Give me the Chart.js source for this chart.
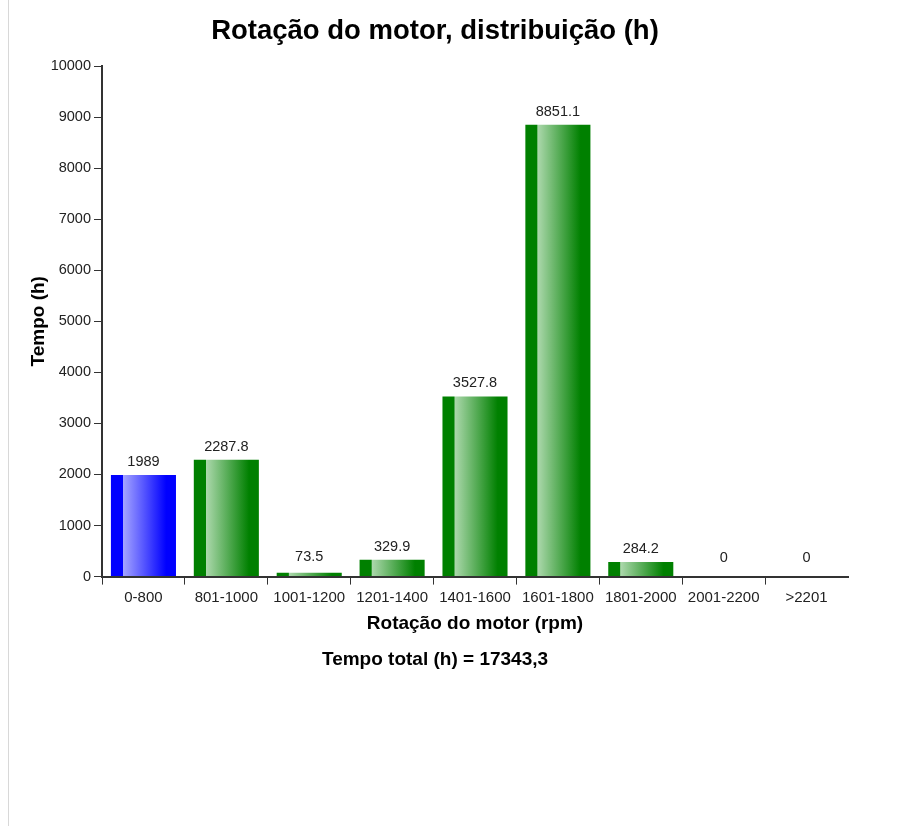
<!DOCTYPE html>
<html>
<head>
<meta charset="utf-8">
<title>Rotação do motor</title>
<script src="https://cdn.jsdelivr.net/npm/chart.js@4.4.0/dist/chart.umd.min.js"></script>
<style>
  body { margin: 0; background: #fff; }
  #wrap { position: relative; width: 909px; height: 826px; }
  #edge { position: absolute; left: 8px; top: 0; bottom: 0; border-left: 1px solid #d8d8d8; }
  #grafico { position: absolute; left: 0; top: 0; }
</style>
</head>
<body>
<div id="wrap">
  <div id="edge"></div>
  <canvas id="grafico" width="870" height="690"></canvas>
</div>
<script>
// faixas de rotação e horas em cada faixa
const faixas = ['0-800', '801-1000', '1001-1200', '1201-1400', '1401-1600', '1601-1800', '1801-2000', '2001-2200', '>2201'];
const horas = [1989, 2287.8, 73.5, 329.9, 3527.8, 8851.1, 284.2, 0, 0];
const coresBase = ['#0000ff', '#008000', '#008000', '#008000', '#008000', '#008000', '#008000', '#008000', '#008000'];
const coresClaras = ['#a4a4ff', '#acd8ac', '#acd8ac', '#acd8ac', '#acd8ac', '#acd8ac', '#acd8ac', '#acd8ac', '#acd8ac'];
const ticksY = [0, 1000, 2000, 3000, 4000, 5000, 6000, 7000, 8000, 9000, 10000];
const tempoTotal = '17343,3';

const fonte = "'Liberation Sans', Arial, sans-serif";
const larguraBarra = 0.785;

function gradiente(ctx) {
  const chart = ctx.chart;
  const x = chart.scales.x;
  const i = ctx.dataIndex;
  if (!x || i === undefined) return coresBase[0];
  const centro = x.getPixelForValue(i);
  const w = (x.width / faixas.length) * larguraBarra;
  const esq = centro - w / 2;
  if (!isFinite(esq) || !isFinite(w) || w <= 0) return coresBase[i];
  const g = chart.ctx.createLinearGradient(esq, 0, esq + w, 0);
  g.addColorStop(0, coresBase[i]);
  g.addColorStop(0.18, coresBase[i]);
  g.addColorStop(0.19, coresClaras[i]);
  g.addColorStop(0.85, coresBase[i]);
  g.addColorStop(1, coresBase[i]);
  return g;
}

// escreve o valor acima de cada barra
const rotulos = {
  id: 'rotulos',
  afterDatasetsDraw(chart) {
    const c = chart.ctx;
    const meta = chart.getDatasetMeta(0);
    c.save();
    c.font = '14.5px ' + fonte;
    c.fillStyle = '#222';
    c.textAlign = 'center';
    c.textBaseline = 'middle';
    meta.data.forEach((bar, i) => {
      const topo = Math.min(bar.y, bar.base - 6);
      c.fillText(String(horas[i]), bar.x, topo - 13);
    });
    c.restore();
  }
};

const grafico = new Chart(document.getElementById('grafico'), {
  type: 'bar',
  data: {
    labels: faixas,
    datasets: [{
      label: 'Tempo (h)',
      data: horas,
      backgroundColor: gradiente,
      borderWidth: 0,
      categoryPercentage: 1,
      barPercentage: larguraBarra
    }]
  },
  options: {
    responsive: false,
    animation: false,
    layout: { padding: { left: 0, right: 0, top: 0, bottom: 19 } },
    plugins: {
      legend: { display: false },
      tooltip: { enabled: false },
      title: {
        display: true,
        text: 'Rotação do motor, distribuição (h)',
        color: '#000',
        font: { family: fonte, size: 27.5, weight: 'bold' },
        padding: { top: 15, bottom: 18 }
      },
      subtitle: {
        display: true,
        position: 'bottom',
        text: 'Tempo total (h) = ' + tempoTotal,
        color: '#000',
        font: { family: fonte, size: 19, weight: 'bold' },
        padding: { top: 12.7, bottom: 0 }
      }
    },
    scales: {
      x: {
        grid: {
          offset: true,
          drawOnChartArea: false,
          drawTicks: true,
          tickLength: 8,
          color: (ctx) => ctx.type === 'tick' ? '#333' : 'rgba(0,0,0,0)',
          lineWidth: 1
        },
        border: { display: true, color: '#333', width: 2 },
        ticks: { color: '#222', font: { family: fonte, size: 15 }, padding: 4, maxRotation: 0, autoSkip: false },
        title: {
          display: true,
          text: 'Rotação do motor (rpm)',
          color: '#000',
          font: { family: fonte, size: 19, weight: 'bold' },
          padding: { top: 0, bottom: 0 }
        },
        afterFit: (s) => { s.height = 58.9; }
      },
      y: {
        min: 0,
        max: 10000,
        afterBuildTicks: (s) => { s.ticks = ticksY.map(v => ({ value: v })); },
        grid: { drawOnChartArea: false, drawTicks: true, tickLength: 8, color: '#333', lineWidth: 1 },
        border: { display: true, color: '#333', width: 2 },
        ticks: { color: '#222', font: { family: fonte, size: 14.5 }, padding: 3, callback: (v) => String(v) },
        title: {
          display: true,
          text: 'Tempo (h)',
          color: '#000',
          font: { family: fonte, size: 19, weight: 'bold' },
          padding: { top: 27.1, bottom: 0 }
        },
        afterFit: (s) => { s.width = 102; }
      },
      folga: {
        type: 'linear',
        position: 'right',
        display: true,
        grid: { display: false },
        border: { display: false },
        ticks: { display: false },
        afterFit: (s) => { s.width = 22; }
      }
    }
  },
  plugins: [rotulos]
});
</script>
</body>
</html>
